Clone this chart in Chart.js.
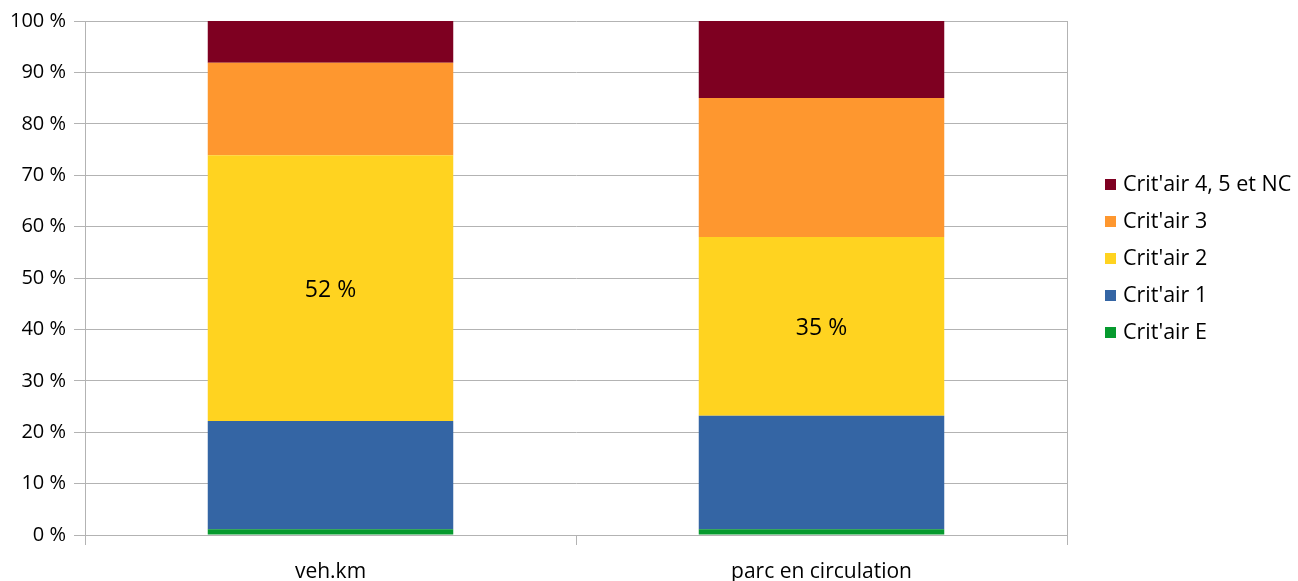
<!DOCTYPE html>
<html>
<head>
<meta charset="utf-8">
<script src="https://cdn.jsdelivr.net/npm/chart.js@4/dist/chart.umd.min.js"></script>
<style>
  html, body { margin: 0; padding: 0; background: #fff; }
  #wrap { width: 1298px; height: 581px; }
</style>
</head>
<body>
<div id="wrap"><canvas id="chart"></canvas></div>
<script>
// Données
const categories = ['veh.km', 'parc en circulation'];
const critE = [1.1, 1.1];
const crit1 = [21.1, 22.1];
const crit2 = [51.7, 34.8];
const crit3 = [18.0, 27.0];
const crit45nc = [8.1, 15.0];
const yTicks = [0, 10, 20, 30, 40, 50, 60, 70, 80, 90, 100];

const FONT = '"Open Sans", sans-serif';
const GRID = '#b3b3b3';

// Étiquettes sur la série Crit'air 2 uniquement
const labelPlugin = {
    id: 'labels',
    afterDatasetsDraw(chart) {
        const ctx = chart.ctx;
        const i = chart.data.datasets.findIndex(d => d.showLabel);
        const meta = chart.getDatasetMeta(i);
        ctx.save();
        ctx.font = '23px ' + FONT;
        ctx.fillStyle = '#000';
        ctx.textAlign = 'center';
        ctx.textBaseline = 'middle';
        meta.data.forEach((bar, j) => {
            const v = chart.data.datasets[i].data[j];
            ctx.fillText(Math.round(v) + ' %', bar.x, (bar.y + bar.base) / 2 + 2);
        });
        ctx.restore();
    }
};

// Légende à droite (ordre inversé)
const legendPlugin = {
    id: 'sideLegend',
    afterDraw(chart) {
        const ctx = chart.ctx;
        const sets = chart.data.datasets.slice().reverse();
        ctx.save();
        ctx.font = '21.5px ' + FONT;
        ctx.textBaseline = 'middle';
        sets.forEach((d, k) => {
            const y = 184 + k * 37;
            ctx.fillStyle = d.backgroundColor;
            ctx.fillRect(1105, y - 5, 11, 11);
            ctx.fillStyle = '#000';
            ctx.fillText(d.label, 1123, y + 1);
        });
        ctx.restore();
    }
};

// Cadre droit du graphique
const framePlugin = {
    id: 'frame',
    beforeDatasetsDraw(chart) {
        const a = chart.chartArea;
        const ctx = chart.ctx;
        ctx.save();
        ctx.strokeStyle = GRID;
        ctx.lineWidth = 1;
        ctx.beginPath();
        ctx.moveTo(Math.round(a.right) + 0.5, a.top);
        ctx.lineTo(Math.round(a.right) + 0.5, a.bottom);
        ctx.stroke();
        ctx.restore();
    }
};

new Chart(document.getElementById('chart').getContext('2d'), {
    type: 'bar',
    data: {
        labels: categories,
        datasets: [
            { label: "Crit'air E", data: critE, backgroundColor: '#069a2e' },
            { label: "Crit'air 1", data: crit1, backgroundColor: '#3465a4' },
            { label: "Crit'air 2", data: crit2, backgroundColor: '#ffd320', showLabel: true },
            { label: "Crit'air 3", data: crit3, backgroundColor: '#fe972f' },
            { label: "Crit'air 4, 5 et NC", data: crit45nc, backgroundColor: '#7e0021' }
        ]
    },
    options: {
        responsive: true,
        maintainAspectRatio: false,
        animation: false,
        datasets: { bar: { barPercentage: 0.5, categoryPercentage: 1.0, borderWidth: 0 } },
        layout: { padding: { top: 21, right: 231, left: 0, bottom: 0 } },
        plugins: {
            legend: { display: false },
            tooltip: { enabled: false }
        },
        scales: {
            x: {
                stacked: true,
                afterFit(s) { s.height = 46; },
                grid: {
                    offset: true,
                    color: c => c.index === 1 ? 'rgba(0,0,0,0)' : GRID,
                    tickColor: GRID,
                    tickLength: 10
                },
                border: { display: false },
                ticks: { color: '#000', font: { family: FONT, size: 21 }, padding: 14 }
            },
            y: {
                stacked: true,
                min: 0,
                max: 100,
                afterFit(s) { s.width = 85; },
                afterBuildTicks(s) { s.ticks = yTicks.map(v => ({ value: v })); },
                grid: { color: GRID, tickLength: 11 },
                border: { color: GRID },
                ticks: {
                    color: '#000',
                    font: { family: FONT, size: 20 },
                    padding: 8,
                    callback: v => v + ' %'
                }
            }
        }
    },
    plugins: [labelPlugin, legendPlugin, framePlugin]
});
</script>
</body>
</html>
